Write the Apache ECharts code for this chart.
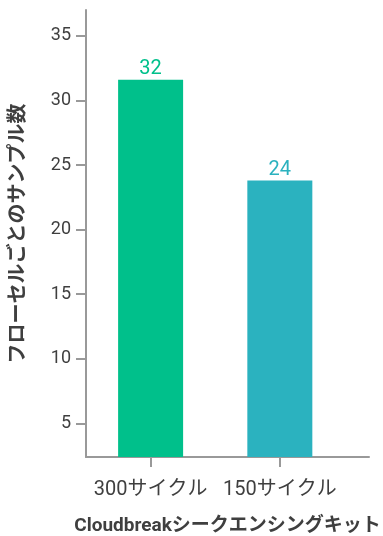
<!DOCTYPE html>
<html>
<head>
<meta charset="utf-8">
<script src="https://cdn.jsdelivr.net/npm/echarts@6/dist/echarts.min.js"></script>
<style>
html,body{margin:0;padding:0;background:#fff;}
#c{width:383px;height:536px;}
</style>
</head>
<body>
<div id="c"></div>
<script>
const categories = ['300サイクル', '150サイクル'];
const values = [31.6, 23.8];
const barColors = ['#00C08B', '#2BB2BF'];
const yTicks = [5, 10, 15, 20, 25, 30, 35];
const yMin = 2.4, yMax = 37;
const yName = 'フローセルごとのサンプル数';
const xName = 'Cloudbreakシークエンシングキット';

const FONT = "Roboto, 'Noto Sans CJK JP', sans-serif";
const AXIS = '#999999';
const TEXT = '#3f3f3f';

const chart = echarts.init(document.getElementById('c'), null, {renderer: 'canvas'});
const catPos = categories.map((_, i) => i + 0.5);

chart.setOption({
  animation: false,
  grid: {left: 86, right: 14, top: 10, bottom: 79, containLabel: false, outerBoundsMode: 'none'},
  xAxis: {
    type: 'value', min: 0, max: 2.19,
    name: xName, nameLocation: 'middle', nameGap: 60,
    nameTextStyle: {fontFamily: FONT, fontSize: 19, fontWeight: 'bold', color: TEXT},
    axisLine: {show: true, lineStyle: {color: AXIS, width: 2}},
    axisTick: {show: true, length: 10, lineStyle: {color: AXIS, width: 2}, customValues: catPos},
    axisLabel: {
      margin: 23, fontFamily: FONT, fontSize: 20, color: TEXT,
      customValues: catPos,
      formatter: v => categories[Math.round(v - 0.5)]
    },
    splitLine: {show: false}
  },
  yAxis: {
    type: 'value', min: yMin, max: yMax,
    name: yName, nameLocation: 'middle', nameGap: 57, nameRotate: 90,
    nameTextStyle: {fontFamily: FONT, fontSize: 20, fontWeight: 'bold', color: TEXT},
    axisLine: {show: true, lineStyle: {color: AXIS, width: 2}},
    axisTick: {show: true, length: 10, lineStyle: {color: AXIS, width: 2}, customValues: yTicks},
    axisLabel: {margin: 15, fontFamily: FONT, fontSize: 18, color: TEXT, customValues: yTicks},
    splitLine: {show: false}
  },
  series: [{
    type: 'bar',
    barWidth: 65,
    data: values.map((v, i) => ({
      value: [catPos[i], v],
      itemStyle: {color: barColors[i]},
      label: {color: barColors[i]}
    })),
    label: {
      show: true, position: 'top', distance: 1,
      fontFamily: FONT, fontSize: 20,
      formatter: p => String(Math.round(p.value[1]))
    }
  }]
});
</script>
</body>
</html>
